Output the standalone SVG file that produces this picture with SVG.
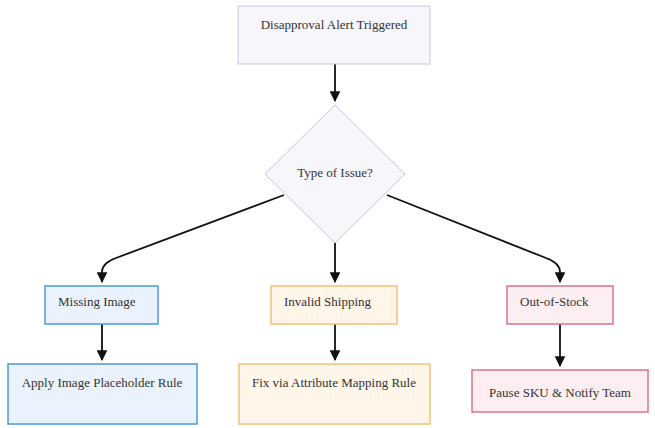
<svg xmlns="http://www.w3.org/2000/svg" width="655" height="428" viewBox="0 0 655 428">
<style>
text{font-family:'Liberation Serif','Times New Roman',serif;font-size:13px;fill:#333}
.c{fill:none;stroke:#111;stroke-width:1.8}
.g{fill:#f7f6fb;stroke:#c9c6dc;stroke-width:1}
.b{fill:#eaf3fd;stroke:#4a9bd6;stroke-width:1.5}
.o{fill:#fff6e9;stroke:#f2c27a;stroke-width:1.5}
.r{fill:#fdeef1;stroke:#d9748a;stroke-width:1.5}
</style>
<defs><marker id="a" viewBox="0 0 10 10" refX="9" refY="5" markerWidth="6" markerHeight="6" orient="auto"><path d="M0,0L10,5L0,10z" fill="#111"/></marker></defs>
<rect width="655" height="428" fill="#fff"/>
<g id="connectors">
<path class="c" marker-end="url(#a)" d="M335,64V101"/>
<path class="c" marker-end="url(#a)" d="M284,195L116,258Q102,263 102,272V282"/>
<path class="c" marker-end="url(#a)" d="M335,243V282"/>
<path class="c" marker-end="url(#a)" d="M387,195L546,258Q560,263 560,272V282"/>
<path class="c" marker-end="url(#a)" d="M102,324V360"/>
<path class="c" marker-end="url(#a)" d="M335,324V360"/>
<path class="c" marker-end="url(#a)" d="M560,324V366"/>
</g>
<g id="start"><rect class="g" x="238" y="6" width="192" height="58"/><text x="334" y="29" text-anchor="middle" font-family="Liberation Serif, serif">Disapproval Alert Triggered</text></g>
<g id="decision"><polygon class="g" points="335,105 405,174 335,243 265,174"/><text x="335" y="177" text-anchor="middle" font-family="Liberation Serif, serif">Type of Issue?</text></g>
<g id="missing"><rect class="b" x="45" y="286" width="113" height="38"/><text x="58" y="306" font-family="Liberation Serif, serif">Missing Image</text></g>
<g id="shipping"><rect class="o" x="271" y="286" width="126" height="38"/><text x="284" y="306" font-family="Liberation Serif, serif">Invalid Shipping</text></g>
<g id="stock"><rect class="r" x="507" y="286" width="106" height="38"/><text x="520" y="306" font-family="Liberation Serif, serif">Out-of-Stock</text></g>
<g id="placeholder"><rect class="b" x="8" y="364" width="189" height="60"/><text x="102" y="387" text-anchor="middle" font-family="Liberation Serif, serif">Apply Image Placeholder Rule</text></g>
<g id="mapping"><rect class="o" x="239" y="364" width="191" height="60"/><text x="334" y="387" text-anchor="middle" font-family="Liberation Serif, serif">Fix via Attribute Mapping Rule</text></g>
<g id="pause"><rect class="r" x="472" y="370" width="176" height="42"/><text x="560" y="397" text-anchor="middle" font-family="Liberation Serif, serif">Pause SKU &amp; Notify Team</text></g>
</svg>
